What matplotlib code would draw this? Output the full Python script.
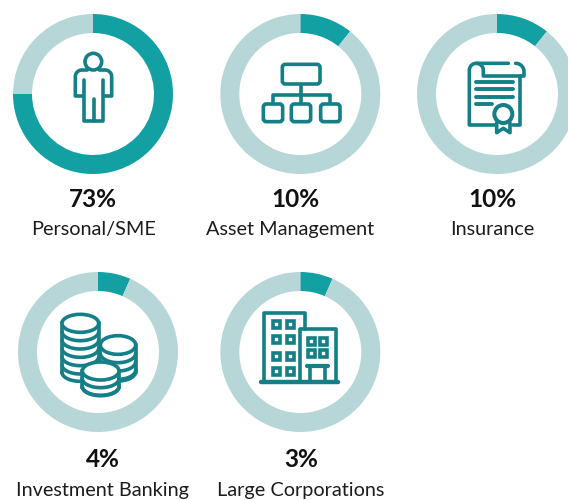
import matplotlib
matplotlib.use("Agg")
import matplotlib.pyplot as plt
import numpy as np
from matplotlib.patches import Circle, Ellipse, Rectangle, FancyBboxPatch

# ---- data ----
categories = ["Personal/SME", "Asset Management", "Insurance", "Investment Banking", "Large Corporations"]
percent_labels = ["73%", "10%", "10%", "4%", "3%"]
arc_shares = [75.0, 10.7, 10.7, 6.6, 6.6]   # filled share of each ring as drawn

W, H = 568, 500
ring_centers = [(93, 94), (300.3, 94), (497, 94), (98, 352), (300.3, 352)]
pct_pos = [(93, 207), (296, 207), (492.5, 207), (103, 467), (301, 467)]
cat_pos = [(93.5, 235), (290.5, 235), (492, 235), (102, 496), (300.5, 496)]
R = 80.0
BAND = 19.0
TEAL = "#13A0A3"
PALE = "#B7D6D8"
ICON = "#147F87"
LW = 2.6

plt.rcParams["font.family"] = ["Lato", "Open Sans", "DejaVu Sans"]
fig = plt.figure(figsize=(W / 100, H / 100), dpi=100, facecolor="white")

for (cx, cy), share in zip(ring_centers, arc_shares):
    ax = fig.add_axes([(cx - R) / W, 1 - (cy + R) / H, 2 * R / W, 2 * R / H])
    ax.pie([share, 100 - share], colors=[TEAL, PALE], startangle=90, counterclock=False,
           radius=1.0, wedgeprops=dict(width=BAND / R, linewidth=0))
    ax.set_xlim(-1, 1)
    ax.set_ylim(-1, 1)
    ax.set_aspect("equal")
    ax.axis("off")

ov = fig.add_axes([0, 0, 1, 1], facecolor="none")
ov.set_xlim(0, W)
ov.set_ylim(H, 0)
ov.axis("off")


def line(o, pts, lw=LW, z=5):
    xs = [o[0] + p[0] / 3 for p in pts]
    ys = [o[1] + p[1] / 3 for p in pts]
    ov.plot(xs, ys, color=ICON, lw=lw, solid_capstyle="round", solid_joinstyle="round", zorder=z)


def rbox(o, x0, y0, x1, y1, rad=3.0, z=5):
    ov.add_patch(FancyBboxPatch((o[0] + x0 / 3 + rad, o[1] + y0 / 3 + rad),
                                (x1 - x0) / 3 - 2 * rad, (y1 - y0) / 3 - 2 * rad,
                                boxstyle=f"round,pad={rad},rounding_size={rad}",
                                fc="white", ec=ICON, lw=LW, zorder=z))


def arc(o, cx, cy, rx, ry, a0, a1, n=24):
    t = np.radians(np.linspace(a0, a1, n))
    return [(cx + rx * np.cos(v), cy + ry * np.sin(v)) for v in t]


# person
o = (0, 0)
ov.add_patch(Circle((280 / 3, 185 / 3), 25 / 3, fc="none", ec=ICON, lw=LW, zorder=5))
line(o, [(250, 288), (226, 288), (226, 232)] + arc(o, 246, 230, 20, 20, 180, 270)
     + [(262, 210)])
line(o, [(298, 210)] + arc(o, 315, 230, 20, 20, 270, 360) + [(335, 288), (312, 288)])
line(o, [(252, 240), (252, 362), (310, 362), (310, 240)])
line(o, [(281, 298), (281, 362)])

# organisation chart
o = (210, 0)
line(o, [(272, 252), (272, 312)])
line(o, [(190, 312), (190, 285), (360, 285), (360, 312)])
rbox(o, 217, 193, 330, 252)
rbox(o, 160, 312, 218, 365)
rbox(o, 244, 312, 302, 365)
rbox(o, 332, 312, 390, 365)

# certificate
o = (400, 0)
line(o, [(285, 375), (208, 375), (208, 212)] + arc(o, 229, 211, 21, 21, 180, 270) + [(325, 190)])
line(o, arc(o, 229, 211, 21, 21, 270, 360) + [(250, 228), (372, 228), (372, 215)]
     + arc(o, 347, 215, 25, 25, 0, -90))
line(o, [(360, 228), (360, 375), (338, 375)])
for yy, x1 in zip([247, 268, 290, 311], [338, 338, 338, 276]):
    line(o, [(228, yy), (x1, yy)], lw=2.8)
line(o, [(290, 368), (290, 398), (310, 385), (330, 398), (330, 368)])
ov.add_patch(Circle((400 + 310 / 3, 342 / 3), 27 / 3, fc="white", ec=ICON, lw=LW + 0.3, zorder=6))


# coins
def stack(cx, top, bottom, rx, ry, step, z):
    ox, oy = 0, 260
    X = cx / 3
    left, right = X - rx / 3, X + rx / 3
    yt, yb = oy + top / 3, oy + bottom / 3
    ov.add_patch(Ellipse((X, yb), 2 * rx / 3, 2 * ry / 3, fc="white", ec=ICON, lw=LW, zorder=z))
    ov.add_patch(Rectangle((left, yt), right - left, yb - yt, fc="white", ec="none", zorder=z))
    ov.plot([left, left], [yt, yb], color=ICON, lw=LW, zorder=z + 0.1)
    ov.plot([right, right], [yt, yb], color=ICON, lw=LW, zorder=z + 0.1)
    for yy in np.arange(top + step, bottom, step):
        pts = arc((ox, oy), cx, yy, rx, ry, 0, 180)
        line((ox, oy), pts, z=z + 0.1)
    ov.add_patch(Ellipse((X, yt), 2 * rx / 3, 2 * ry / 3, fc="white", ec=ICON, lw=LW, zorder=z + 0.2))


stack(241, 190, 337, 55, 27, 25, 5)
stack(354, 255, 335, 53, 28, 25, 6)
stack(302, 333, 380, 55, 27, 23, 7)

# building
o = (210, 260)
line(o, [(152, 367), (385, 367)], lw=3.2)
line(o, [(162, 367), (162, 160), (285, 160), (285, 207)])
line(o, [(270, 367), (270, 207), (378, 207), (378, 367)])
line(o, [(290, 318), (355, 318)], lw=3.0)
line(o, [(300, 318), (300, 367)])
line(o, [(345, 318), (345, 367)])
for wx in (199, 241):
    for wy in (194, 238, 289, 335):
        ov.add_patch(Rectangle((210 + (wx - 10) / 3, 260 + (wy - 10) / 3), 20 / 3, 20 / 3,
                               fc="white", ec=ICON, lw=LW, zorder=5))
for wx in (305, 340):
    for wy in (244, 281):
        ov.add_patch(Rectangle((210 + (wx - 10) / 3, 260 + (wy - 10) / 3), 20 / 3, 20 / 3,
                               fc="white", ec=ICON, lw=LW, zorder=5))

# text
for (x, y), s in zip(pct_pos, percent_labels):
    ov.text(x, y, s, ha="center", va="baseline", fontsize=17.6, fontweight="bold", color="#111111")
for (x, y), s in zip(cat_pos, categories):
    ov.text(x, y, s, ha="center", va="baseline", fontsize=14.3, color="#1c1c1c")

fig.savefig("out.png", dpi=100, facecolor="white")
